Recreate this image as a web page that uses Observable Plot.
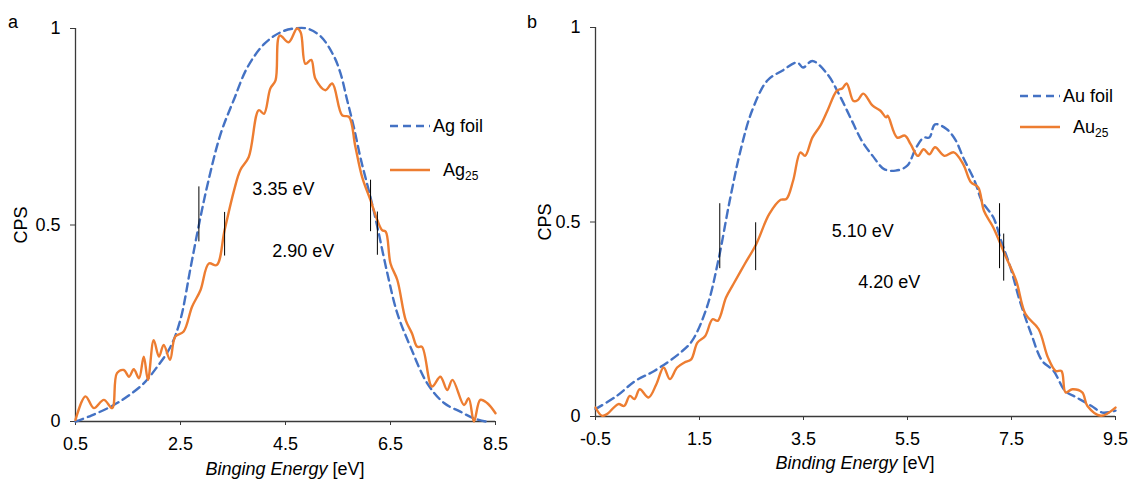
<!DOCTYPE html>
<html><head><meta charset="utf-8">
<script src="https://cdn.jsdelivr.net/npm/d3@7"></script>
<script src="https://cdn.jsdelivr.net/npm/@observablehq/plot@0.6"></script>
<style>
body{margin:0;background:#fff;font-family:"Liberation Sans",Arial,sans-serif;}
#wrap{position:relative;width:1128px;height:480px;overflow:hidden;}
#a{position:absolute;left:0;top:0;width:520px;height:480px;}
#b{position:absolute;left:520px;top:0;width:608px;height:480px;}
</style></head><body><div id="wrap"><div id="a"></div><div id="b"></div></div>
<script>
// ---------- Panel a data ----------
const agFoilE   = [0.5,0.8,1.23,1.5,1.8,2.06,2.31,2.5,2.69,2.85,3.01,3.26,3.52,3.77,4.09,4.4,4.66,4.91,5.17,5.42,5.55,5.67,5.8,5.93,6.12,6.25,6.44,6.63,6.88,7.2,7.52,7.83,8.09,8.31];
const agFoilCPS = [0.0,0.015,0.042,0.065,0.097,0.14,0.19,0.26,0.39,0.50,0.60,0.73,0.82,0.90,0.96,0.99,1.0,1.0,0.98,0.93,0.885,0.82,0.75,0.67,0.57,0.495,0.377,0.275,0.19,0.097,0.047,0.025,0.008,0.0];
const ag25E   = [0.5,0.69,0.85,1.04,1.2,1.29,1.42,1.52,1.61,1.71,1.8,1.88,1.99,2.09,2.18,2.3,2.4,2.56,2.72,2.88,3.04,3.19,3.34,3.52,3.64,3.8,3.99,4.09,4.21,4.31,4.39,4.56,4.72,4.79,4.88,4.99,5.07,5.26,5.39,5.58,5.71,5.83,5.96,6.12,6.25,6.34,6.41,6.5,6.63,6.79,6.91,7.01,7.1,7.29,7.45,7.58,7.68,7.9,7.99,8.09,8.21,8.34,8.5];
const ag25CPS = [0.004,0.064,0.034,0.055,0.034,0.123,0.131,0.114,0.133,0.11,0.165,0.106,0.207,0.165,0.195,0.157,0.216,0.229,0.292,0.334,0.402,0.398,0.487,0.588,0.64,0.673,0.792,0.783,0.847,0.868,0.982,0.965,1.0,0.99,0.91,0.92,0.872,0.843,0.86,0.779,0.775,0.70,0.622,0.563,0.512,0.487,0.483,0.402,0.36,0.258,0.224,0.19,0.19,0.089,0.114,0.08,0.106,0.042,0.059,0.0,0.055,0.047,0.021];
const agMarkX  = [2.85,6.12,3.34,6.25];
const agMarkY1 = [0.457,0.483,0.421,0.423];
const agMarkY2 = [0.597,0.614,0.532,0.533];
const agLabels = ["3.35 eV","2.90 eV"];
const agLabelX = [4.46,4.84];
const agLabelY = [0.59,0.433];
const agTicksX = [0.5,2.5,4.5,6.5,8.5];

// ---------- Panel b data ----------
const auFoilE   = [-0.5,-0.09,0.27,0.63,1.14,1.36,1.64,1.86,2.08,2.3,2.51,2.8,3.09,3.38,3.49,3.67,3.96,4.18,4.4,4.62,4.83,5.05,5.27,5.49,5.67,5.81,5.92,6.03,6.25,6.43,6.57,6.79,6.93,7.15,7.3,7.48,7.66,7.88,8.09,8.31,8.53,8.75,9.04,9.25,9.5];
const auFoilCPS = [0.019,0.053,0.092,0.117,0.165,0.195,0.28,0.40,0.554,0.69,0.786,0.863,0.889,0.91,0.897,0.914,0.88,0.829,0.769,0.709,0.67,0.636,0.632,0.644,0.692,0.717,0.717,0.751,0.739,0.709,0.666,0.606,0.554,0.512,0.452,0.383,0.297,0.212,0.143,0.117,0.066,0.049,0.027,0.01,0.015];
const au25E   = [-0.5,-0.38,-0.28,-0.06,0.05,0.16,0.25,0.35,0.52,0.67,0.81,0.93,1.07,1.21,1.34,1.46,1.61,1.75,1.85,2.01,2.15,2.37,2.59,2.84,3.06,3.17,3.3,3.44,3.53,3.67,3.82,3.96,4.14,4.25,4.33,4.46,4.54,4.65,4.83,4.98,5.09,5.12,5.3,5.45,5.56,5.7,5.81,5.92,6.03,6.21,6.39,6.57,6.72,6.86,6.97,7.15,7.37,7.59,7.77,8.02,8.2,8.35,8.46,8.54,8.67,8.86,8.96,9.22,9.5];
const au25CPS = [0.023,0.002,0.006,0.032,0.027,0.053,0.045,0.07,0.049,0.083,0.126,0.096,0.126,0.139,0.147,0.19,0.207,0.25,0.246,0.306,0.34,0.392,0.443,0.52,0.557,0.559,0.606,0.679,0.67,0.717,0.747,0.786,0.837,0.844,0.856,0.811,0.813,0.83,0.799,0.786,0.769,0.773,0.717,0.722,0.70,0.67,0.687,0.674,0.692,0.67,0.679,0.649,0.602,0.589,0.529,0.486,0.417,0.349,0.263,0.225,0.152,0.117,0.117,0.062,0.07,0.062,0.027,0.002,0.023];
const auMarkX  = [1.89,7.27,2.58,7.35];
const auMarkY1 = [0.380,0.380,0.375,0.348];
const auMarkY2 = [0.547,0.547,0.498,0.469];
const auLabels = ["5.10 eV","4.20 eV"];
const auLabelX = [4.64,5.15];
const auLabelY = [0.475,0.344];
const auTicksX = [-0.5,1.5,3.5,5.5,7.5,9.5];

const ticksY = [0,0.5,1];

const BLUE = "#4472C4", ORANGE = "#ED7D31", AXIS = "#3a3a3a";
const zipXY = (xs, ys) => xs.map((x, i) => ({x, y: ys[i]}));
const fmt = d => String(d);

function panel(cfg) {
  const foil = zipXY(cfg.foilE, cfg.foilCPS);
  const clus = zipXY(cfg.clusE, cfg.clusCPS);
  const marks = cfg.markX.map((x, i) => ({x, y1: cfg.markY1[i], y2: cfg.markY2[i]}));
  const labels = cfg.labels.map((t, i) => ({t, x: cfg.labelX[i], y: cfg.labelY[i]}));
  const xd = [cfg.ticksX[0], cfg.ticksX[cfg.ticksX.length - 1]];
  return Plot.plot({
    width: cfg.width, height: 480,
    marginLeft: cfg.ml, marginRight: cfg.mr, marginTop: cfg.mt, marginBottom: cfg.mb,
    style: {fontFamily: "Liberation Sans, Arial, sans-serif", fontSize: "18px", color: "#000", background: "transparent", overflow: "visible"},
    x: {domain: xd},
    y: {domain: [0, 1]},
    marks: [
      Plot.ruleY([0], {stroke: AXIS, strokeWidth: 1.3}),
      Plot.ruleX([xd[0]], {stroke: AXIS, strokeWidth: 1.3}),
      Plot.axisX({ticks: cfg.ticksX, tickSize: 4, tickPadding: 12, tickFormat: fmt, label: null, stroke: AXIS, fill: "#000"}),
      Plot.axisY({ticks: ticksY, tickSize: 5, tickPadding: 10, tickFormat: fmt, label: null, stroke: AXIS, fill: "#000"}),
      Plot.line(foil, {x: "x", y: "y", stroke: BLUE, strokeWidth: 2.4, strokeDasharray: "8,5", curve: "catmull-rom"}),
      Plot.line(clus, {x: "x", y: "y", stroke: ORANGE, strokeWidth: 2.4, curve: "catmull-rom"}),
      Plot.ruleX(marks, {x: "x", y1: "y1", y2: "y2", stroke: "#000", strokeWidth: 1}),
      Plot.text(labels, {x: "x", y: "y", text: "t", fill: "#000", fontSize: 18})
    ]
  });
}

function decorate(svg, d) {
  const s = d3.select(svg);
  const ff = "Liberation Sans, Arial, sans-serif";
  // panel letter
  s.append("text").attr("x", d.letterX).attr("y", 28).attr("text-anchor", "start").attr("font-size", 18)
    .attr("font-family", ff).attr("fill", "#000").text(d.letter);
  // x axis title
  const t = s.append("text").attr("x", d.titleX).attr("y", d.titleY).attr("text-anchor", "middle")
    .attr("font-size", 18).attr("font-family", ff).attr("fill", "#000");
  t.append("tspan").attr("font-style", "italic").text(d.titleItalic);
  t.append("tspan").text(" [eV]");
  // y axis title
  s.append("text").attr("transform", `translate(${d.cpsX},${d.cpsY}) rotate(-90)`).attr("text-anchor", "middle")
    .attr("font-size", 18).attr("font-family", ff).attr("fill", "#000").text("CPS");
  // legend
  const g = s.append("g").attr("font-family", ff).attr("font-size", 18).attr("fill", "#000").attr("text-anchor", "start");
  g.append("line").attr("x1", d.legX).attr("x2", d.legX + 40).attr("y1", d.legY1).attr("y2", d.legY1)
    .attr("stroke", BLUE).attr("stroke-width", 2.4).attr("stroke-dasharray", "8,5");
  g.append("text").attr("text-anchor", "start").attr("x", d.legX + 43).attr("y", d.legY1 + 6).text(d.foilName);
  g.append("line").attr("x1", d.legX).attr("x2", d.legX + 40).attr("y1", d.legY2).attr("y2", d.legY2)
    .attr("stroke", ORANGE).attr("stroke-width", 2.4);
  const t2 = g.append("text").attr("text-anchor", "start").attr("x", d.legX + 53).attr("y", d.legY2 + 6);
  t2.append("tspan").text(d.clusName);
  t2.append("tspan").attr("font-size", 12).attr("dy", 4).text("25");
}

const svgA = panel({width: 520, ml: 75, mr: 25, mt: 28, mb: 59,
  foilE: agFoilE, foilCPS: agFoilCPS, clusE: ag25E, clusCPS: ag25CPS,
  markX: agMarkX, markY1: agMarkY1, markY2: agMarkY2,
  labels: agLabels, labelX: agLabelX, labelY: agLabelY, ticksX: agTicksX});
document.getElementById("a").appendChild(svgA);
decorate(svgA, {letter: "a", letterX: 8, titleX: 285, titleY: 475, titleItalic: "Binging Energy",
  cpsX: 27, cpsY: 225, legX: 390, legY1: 126, legY2: 170, foilName: "Ag foil", clusName: "Ag"});

const svgB = panel({width: 608, ml: 75, mr: 13, mt: 27, mb: 64,
  foilE: auFoilE, foilCPS: auFoilCPS, clusE: au25E, clusCPS: au25CPS,
  markX: auMarkX, markY1: auMarkY1, markY2: auMarkY2,
  labels: auLabels, labelX: auLabelX, labelY: auLabelY, ticksX: auTicksX});
document.getElementById("b").appendChild(svgB);
decorate(svgB, {letter: "b", letterX: 7, titleX: 335, titleY: 469, titleItalic: "Binding Energy",
  cpsX: 31, cpsY: 222, legX: 500, legY1: 96, legY2: 127, foilName: "Au foil", clusName: "Au"});
</script></body></html>
